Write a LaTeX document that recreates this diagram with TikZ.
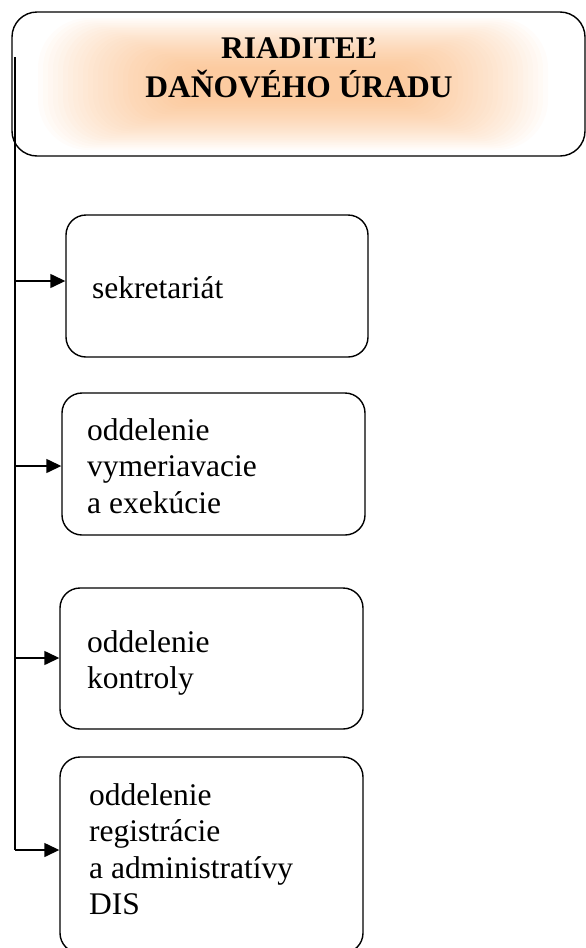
\documentclass[tikz,border=0pt]{standalone}
\usepackage{fontspec}
\setmainfont{Liberation Serif}
\usetikzlibrary{arrows.meta}
\definecolor{glow}{RGB}{250,170,100}
\begin{document}
\begin{tikzpicture}[x=1pt,y=-1pt,
  unitbox/.style={draw, line width=1.4pt, rounded corners=20pt, minimum width=303pt, inner sep=0pt},
  lbl/.style={anchor=base west, inner sep=0pt, font=\fontsize{31.5}{36.5}\selectfont},
  link/.style={line width=1.4pt, -{Triangle[length=15pt,width=14pt]}}]
\useasboundingbox (0,0) rectangle (586,948);
% glow fill of top box (soft blurred rectangle)
\begin{scope}
  \clip[rounded corners=25pt] (12,12) rectangle (585,156);
  \foreach \i in {0,...,29}{
    \fill[glow, opacity=0.032, rounded corners={50pt-\i*1.2pt}]
      ({293-255+\i*5},{84-66+\i*1.7}) rectangle ({293+255-\i*5},{84+66-\i*1.7});
  }
\end{scope}
\node[draw, line width=1.4pt, rounded corners=25pt, minimum width=573pt, minimum height=144pt, inner sep=0pt] (dir) at (298.5,84) {};
\node[inner sep=0pt, font=\fontsize{31.5}{39}\selectfont\bfseries, anchor=base] (dirt) at (299,58)
  {\begin{tabular}[t]{@{}c@{}}RIADITEĽ\\DAŇOVÉHO ÚRADU\end{tabular}};
% boxes
\node[unitbox, minimum height=142pt, minimum width=302pt] (b1) at (217,286) {};
\node[unitbox, minimum height=142pt] (b2) at (213.5,464) {};
\node[unitbox, minimum height=141pt] (b3) at (211.5,658.5) {};
\node[unitbox, minimum height=196pt] (b4) at (211.5,855) {};
% texts
\node[lbl] (t1) at (92,298) {sekretariát};
\node[lbl] (t2) at (87,440) {\begin{tabular}[t]{@{}l@{}}oddelenie\\vymeriavacie\\a exekúcie\end{tabular}};
\node[lbl] (t3) at (87,652) {\begin{tabular}[t]{@{}l@{}}oddelenie\\kontroly\end{tabular}};
\node[lbl] (t4) at (89,805) {\begin{tabular}[t]{@{}l@{}}oddelenie\\registrácie\\a administratívy\\DIS\end{tabular}};
% connectors
\coordinate (top) at (15,57);
\coordinate (c1) at (15,281);
\coordinate (c2) at (15,466);
\coordinate (c3) at (15,658);
\coordinate (c4) at (15,850);
\draw[line width=1.4pt] (top) -- (c4);
\draw[link] (c1) -- (c1 -| b1.west);
\draw[link] (c2) -- (c2 -| b2.west);
\draw[link] (c3) -- (c3 -| b3.west);
\draw[link] (c4) -- (c4 -| b4.west);
\end{tikzpicture}
\end{document}
